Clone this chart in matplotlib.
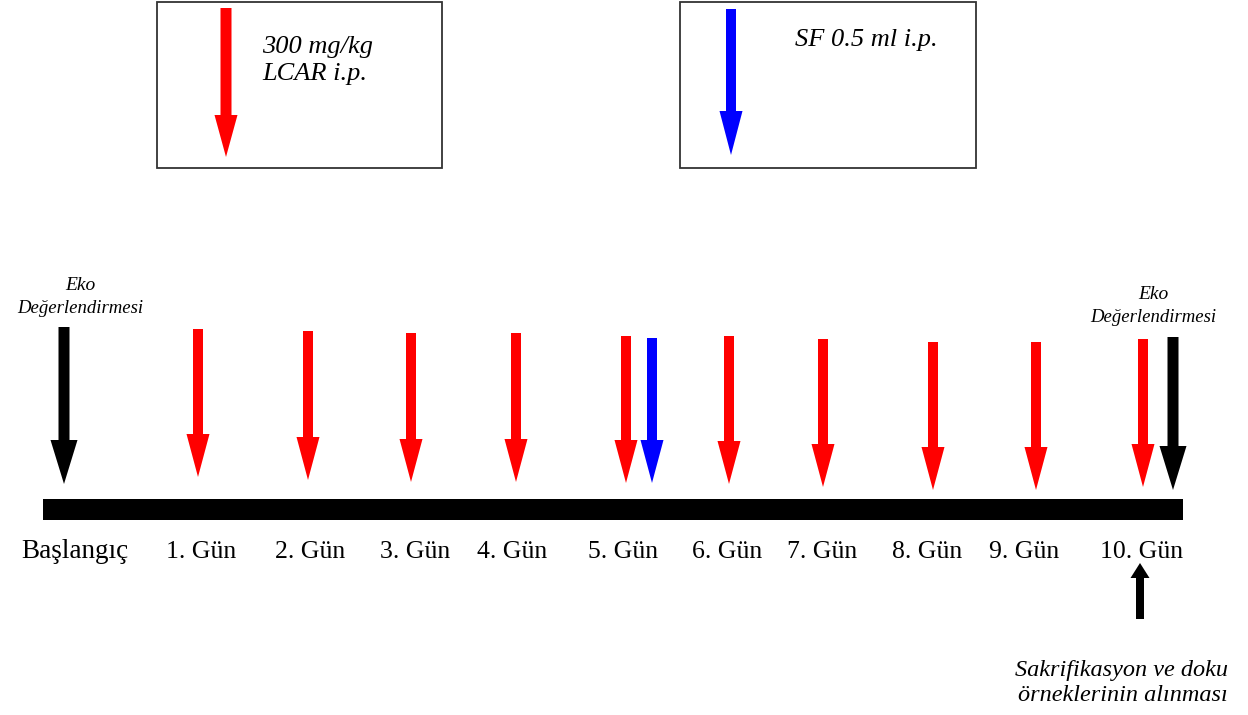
import matplotlib
matplotlib.use('Agg')
import matplotlib.pyplot as plt
from matplotlib.patches import Rectangle

# -- timeline data (pixel-like units, y grows downward) --
DAY_LABELS = ['Başlangıç', '1. Gün', '2. Gün', '3. Gün', '4. Gün', '5. Gün',
              '6. Gün', '7. Gün', '8. Gün', '9. Gün', '10. Gün']
DAY_X      = [75, 201, 310, 415, 512, 623, 727, 822, 927, 1024, 1142]

LCAR_X     = [198, 308, 411, 516, 626, 729, 823, 933, 1036, 1143]
LCAR_TOP   = [329, 331, 333, 333, 336, 336, 339, 342, 342, 339]
LCAR_TIP   = [477, 480, 482, 482, 483, 484, 487, 490, 490, 487]

SF_X       = [652]
SF_TOP     = [338]
SF_TIP     = [483]

EKO_X      = [64, 1173]
EKO_TOP    = [327, 337]
EKO_TIP    = [484, 490]
EKO_LABEL_X = [80, 1153]
EKO_LABEL_Y = [311, 320]

BAR_START, BAR_END = 43, 1183
BAR_Y, BAR_H = 509, 21

RED   = '#ff0000'
BLUE  = '#0000ff'
SERIF = ['Liberation Serif', 'DejaVu Serif']

fig = plt.figure(figsize=(12.48, 7.15), dpi=100)
fig.patch.set_facecolor('white')
ax = fig.add_axes([0, 0, 1, 1])
ax.set_xlim(0, 1248)
ax.set_ylim(715, 0)
ax.axis('off')


def down_arrow(x, top, tip, color, shaft=10, head_w=22, head_l=42):
    ax.arrow(x, top, 0, tip - top, width=shaft, head_width=head_w,
             head_length=head_l, length_includes_head=True,
             color=color, lw=0)


# -- legend boxes --
ax.add_patch(Rectangle((157, 2), 285, 166, fill=False, ec='#333333', lw=1.3))
ax.add_patch(Rectangle((680, 2), 296, 166, fill=False, ec='#333333', lw=1.3))
down_arrow(226, 8, 157, RED, shaft=11, head_w=23)
down_arrow(731, 9, 155, BLUE, shaft=10, head_w=23, head_l=44)
ax.text(262, 53, '300 mg/kg', fontsize=19, style='italic', family=SERIF,
        ha='left', va='baseline')
ax.text(262, 80, 'LCAR i.p.', fontsize=19, style='italic', family=SERIF,
        ha='left', va='baseline')
ax.text(795, 46, 'SF 0.5 ml i.p.', fontsize=19, style='italic', family=SERIF,
        ha='left', va='baseline')

# -- timeline bar --
ax.barh(BAR_Y, BAR_END - BAR_START, left=BAR_START, height=BAR_H,
        color='black')

# -- treatment arrows --
for x, t, b in zip(LCAR_X, LCAR_TOP, LCAR_TIP):
    down_arrow(x, t, b, RED, shaft=10, head_w=23, head_l=43)
for x, t, b in zip(SF_X, SF_TOP, SF_TIP):
    down_arrow(x, t, b, BLUE, shaft=10, head_w=23, head_l=43)
for x, t, b in zip(EKO_X, EKO_TOP, EKO_TIP):
    down_arrow(x, t, b, 'black', shaft=11, head_w=27, head_l=44)

for x, y in zip(EKO_LABEL_X, EKO_LABEL_Y):
    ax.text(x, y - 21, 'Eko', fontsize=14, style='italic', family=SERIF,
            ha='center', va='baseline')
    ax.text(x, y + 2, 'Değerlendirmesi', fontsize=13.5, style='italic',
            family=SERIF, ha='center', va='baseline')

# -- day labels --
for i, (lab, x) in enumerate(zip(DAY_LABELS, DAY_X)):
    ax.text(x, 558, lab, fontsize=19.5 if i == 0 else 18.5, family=SERIF,
            ha='center', va='baseline')

# -- sacrifice marker --
ax.arrow(1140, 619, 0, -56, width=8, head_width=19, head_length=15,
         length_includes_head=True, color='black', lw=0)
ax.text(1228, 676, 'Sakrifikasyon ve doku', fontsize=17.5, style='italic',
        family=SERIF, ha='right', va='baseline')
ax.text(1228, 701, 'örneklerinin alınması', fontsize=17.5, style='italic',
        family=SERIF, ha='right', va='baseline')

fig.savefig('out.png', dpi=100, facecolor='white')
